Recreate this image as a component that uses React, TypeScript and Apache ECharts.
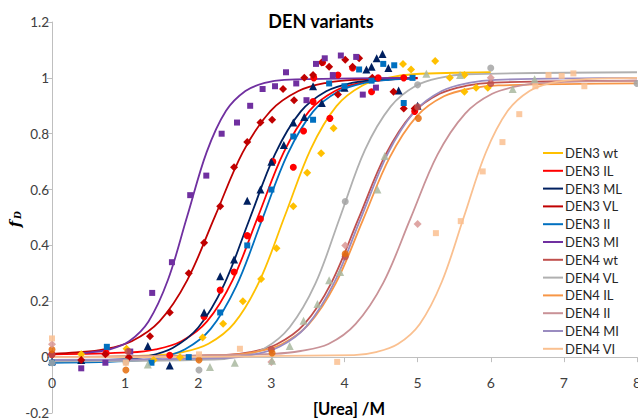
import React, { useEffect, useRef } from "react";
import * as echarts from "echarts";

const seriesNames = [
  "DEN3 wt", "DEN3 IL", "DEN3 ML", "DEN3 VL", "DEN3 II", "DEN3 MI",
  "DEN4 wt", "DEN4 VL", "DEN4 IL", "DEN4 II", "DEN4 MI", "DEN4 VI",
];
const lineColors = [
  "#FFC000", "#FF0000", "#002060", "#C00000", "#0070C0", "#7030A0",
  "#C0504D", "#B0B0B0", "#F79646", "#C99297", "#9A8CC0", "#FAC090",
];
const markerColors = [
  "#FFC000", "#FF0000", "#002060", "#C00000", "#0070C0", "#7030A0",
  "#C0504D", "#A5A5A5", "#E46C0A", "#D99694", "#A9B8A0", "#FAC090",
];
const markerSymbols = [
  "diamond", "circle", "triangle", "diamond", "rect", "rect",
  "circle", "circle", "circle", "diamond", "triangle", "rect",
];

// fitted curves: [urea, fD]
const den3WtCurve = [[0.4, 0.0], [1.44, 0.007], [1.79, 0.018], [2.14, 0.048], [2.49, 0.121], [2.84, 0.274], [3.19, 0.51], [3.54, 0.746], [3.89, 0.899], [4.24, 0.972], [4.59, 1.0], [4.94, 1.013], [6.0, 1.02]];
const den3IlCurve = [[0, 0.01], [1.07, 0.017], [1.42, 0.028], [1.77, 0.057], [2.12, 0.128], [2.47, 0.276], [2.82, 0.505], [3.17, 0.734], [3.52, 0.882], [3.87, 0.953], [4.22, 0.982], [4.57, 0.993], [5.0, 0.998]];
const den3MlCurve = [[0, -0.015], [0.95, -0.008], [1.3, 0.003], [1.65, 0.033], [2.0, 0.106], [2.35, 0.258], [2.7, 0.493], [3.05, 0.727], [3.4, 0.879], [3.75, 0.952], [4.1, 0.982], [4.45, 0.993], [4.95, 0.999]];
const den3VlCurve = [[0, 0.012], [0.33, 0.017], [0.71, 0.028], [1.09, 0.057], [1.47, 0.128], [1.85, 0.276], [2.23, 0.505], [2.61, 0.734], [2.99, 0.882], [3.37, 0.953], [3.75, 0.982], [4.13, 0.993], [5.0, 1.0]];
const den3IiCurve = [[0, -0.02], [1.12, -0.013], [1.47, -0.002], [1.82, 0.028], [2.17, 0.101], [2.52, 0.254], [2.87, 0.49], [3.22, 0.726], [3.57, 0.879], [3.92, 0.952], [4.27, 0.982], [4.62, 0.993], [4.95, 0.997]];
const den3MiCurve = [[0.4, 0.014], [0.525, 0.017], [0.79, 0.028], [1.055, 0.057], [1.32, 0.128], [1.585, 0.276], [1.85, 0.505], [2.115, 0.734], [2.38, 0.882], [2.645, 0.953], [2.91, 0.982], [3.175, 0.993], [4.9, 1.0]];
const den4WtCurve = [[0, 0.0], [2.34, 0.007], [2.71, 0.018], [3.08, 0.047], [3.45, 0.118], [3.82, 0.266], [4.19, 0.495], [4.56, 0.724], [4.93, 0.872], [5.3, 0.943], [5.67, 0.972], [6.04, 0.983], [8.0, 0.99]];
const den4VlCurve = [[0, -0.015], [2.22, -0.009], [2.56, 0.003], [2.91, 0.032], [3.25, 0.107], [3.6, 0.262], [3.94, 0.502], [4.28, 0.742], [4.63, 0.897], [4.97, 0.971], [5.32, 1.001], [5.66, 1.013], [8.0, 1.02]];
const den4IlCurve = [[0, 0.0], [2.4, 0.007], [2.77, 0.018], [3.14, 0.046], [3.51, 0.117], [3.88, 0.264], [4.25, 0.49], [4.62, 0.716], [4.99, 0.863], [5.36, 0.934], [5.73, 0.962], [6.1, 0.973], [8.0, 0.98]];
const den4IiCurve = [[0, 0.0], [2.0, 0.006], [3.03, 0.012], [3.4, 0.022], [3.78, 0.047], [4.15, 0.118], [4.53, 0.266], [4.9, 0.495], [5.27, 0.724], [5.65, 0.872], [6.02, 0.943], [6.4, 0.972], [6.77, 0.983], [8.0, 0.99]];
const den4MiCurve = [[0, -0.01], [2.37, -0.003], [2.74, 0.008], [3.11, 0.037], [3.48, 0.11], [3.85, 0.262], [4.22, 0.495], [4.59, 0.728], [4.96, 0.88], [5.33, 0.953], [5.7, 0.982], [6.07, 0.993], [8.0, 1.0]];
const den4ViCurve = [[0, 0.0], [4.13, 0.007], [4.43, 0.018], [4.73, 0.047], [5.03, 0.119], [5.33, 0.269], [5.63, 0.5], [5.93, 0.731], [6.23, 0.881], [6.53, 0.953], [6.83, 0.982], [7.13, 0.993], [8.0, 1.0]];

// measured points: [urea, fD]
const den3WtPoints = [[0.4, 0.01], [1.02, 0.03], [1.39, -0.01], [1.75, 0.0], [2.06, 0.07], [2.34, 0.12], [2.61, 0.2], [2.86, 0.28], [3.07, 0.39], [3.3, 0.54], [3.49, 0.66], [3.68, 0.73], [3.85, 0.82], [4.8, 1.05], [4.91, 1.03], [5.24, 1.06], [5.44, 1.0], [5.64, 1.01], [5.64, 0.95], [5.8, 0.965], [5.96, 0.965]];
const den3IlPoints = [[0, 0.01], [0.74, 0.015], [1.61, 0.007], [2.08, 0.145], [2.3, 0.24], [2.49, 0.305], [2.67, 0.435], [2.85, 0.495], [3.02, 0.7], [3.3, 0.68], [3.44, 0.81], [3.57, 0.915], [3.58, 1.0], [3.7, 1.055], [3.8, 0.855], [3.91, 1.01], [4.11, 1.035], [4.37, 0.95], [4.46, 1.0], [4.81, 1.0], [4.96, 0.88]];
const den3MlPoints = [[0, -0.015], [0.4, -0.01], [1.31, 0.04], [1.61, -0.03], [2.08, 0.16], [2.3, 0.29], [2.49, 0.35], [2.67, 0.56], [2.85, 0.6], [3.0, 0.7], [3.17, 0.76], [3.3, 0.84], [3.45, 0.86], [3.57, 0.97], [3.69, 0.91], [4.0, 0.965], [4.3, 1.03], [4.37, 1.04], [4.44, 1.07], [4.52, 1.085], [4.6, 1.035], [4.74, 0.955], [5.0, 0.9]];
const den3VlPoints = [[0, 0.01], [0.4, -0.01], [0.73, 0.01], [1.05, 0.0], [1.34, 0.075], [1.61, 0.16], [1.87, 0.3], [2.08, 0.41], [2.3, 0.54], [2.49, 0.68], [2.67, 0.77], [2.85, 0.84], [3.01, 0.85], [3.16, 0.96], [3.31, 0.92], [3.45, 1.0], [3.57, 1.01], [3.69, 1.055], [3.79, 1.04], [3.91, 0.94], [4.01, 1.065], [4.11, 1.04], [4.2, 1.07], [4.38, 1.0], [4.67, 0.95], [4.81, 0.89], [4.96, 0.89]];
const den3IiPoints = [[0, -0.02], [0.75, 0.037], [1.36, -0.02], [1.87, 0.0], [2.3, 0.16], [2.67, 0.4], [3.0, 0.6], [3.3, 0.79], [3.57, 0.85], [3.79, 0.98], [4.0, 0.97], [4.2, 1.03], [4.37, 0.99], [4.53, 1.05], [4.68, 1.045], [4.81, 0.91], [4.93, 1.0]];
const den3MiPoints = [[0.4, -0.04], [0.73, -0.02], [1.07, 0.02], [1.37, 0.23], [1.64, 0.34], [1.89, 0.58], [2.11, 0.65], [2.32, 0.8], [2.53, 0.84], [2.71, 0.9], [2.88, 0.96], [3.05, 0.97], [3.2, 1.02], [3.34, 0.98], [3.48, 0.92], [3.61, 1.05], [3.73, 1.07], [3.84, 1.01], [3.95, 1.08], [4.16, 1.075], [4.25, 0.94], [4.43, 0.965]];
const den4WtPoints = [[0, 0.01], [1.04, 0.02], [3.0, 0.027], [4.01, 0.36], [5.0, 0.896], [6.0, 0.98]];
const den4VlPoints = [[0, -0.02], [1.01, -0.017], [2.01, -0.046], [4.01, 0.557], [5.0, 0.975], [6.0, 1.035], [8.0, 0.98]];
const den4IlPoints = [[0, 0.027], [1.01, -0.046], [2.01, -0.01], [3.01, 0.015], [4.01, 0.37], [5.01, 0.855]];
const den4IiPoints = [[0, 0.046], [3.0, -0.017], [4.01, 0.4], [5.0, 0.477], [6.0, 1.0]];
const den4MiPoints = [[1.31, -0.026], [2.16, -0.035], [2.5, -0.02], [3.01, -0.013], [3.25, 0.04], [3.44, 0.13], [3.63, 0.19], [3.79, 0.275], [3.94, 0.305], [4.45, 0.6], [4.55, 0.72], [5.12, 1.015], [5.58, 1.01], [6.3, 0.96], [6.6, 0.995]];
const den4ViPoints = [[0, 0.067], [1.01, -0.02], [2.01, 0.01], [2.57, 0.03], [3.9, -0.017], [5.25, 0.444], [5.59, 0.487], [5.89, 0.665], [6.16, 0.77], [6.39, 0.87], [6.61, 0.97], [6.79, 1.01], [6.97, 1.007], [7.13, 1.016], [7.28, 0.97]];

const curves = [den3WtCurve, den3IlCurve, den3MlCurve, den3VlCurve, den3IiCurve, den3MiCurve, den4WtCurve, den4VlCurve, den4IlCurve, den4IiCurve, den4MiCurve, den4ViCurve];
const points = [den3WtPoints, den3IlPoints, den3MlPoints, den3VlPoints, den3IiPoints, den3MiPoints, den4WtPoints, den4VlPoints, den4IlPoints, den4IiPoints, den4MiPoints, den4ViPoints];

const titleText = "DEN variants";
const xAxisTitle = "[Urea] /M";

export default function App() {
  const ref = useRef<HTMLDivElement>(null);
  useEffect(() => {
    if (!ref.current) return;
    const chart = echarts.init(ref.current, null, { renderer: "svg" });
    const font = "Lato, 'Liberation Sans', sans-serif";
    const series: any[] = [];
    points.forEach((pts, i) => {
      series.push({
        name: seriesNames[i] + " data",
        type: "scatter",
        data: pts,
        symbol: markerSymbols[i],
        symbolSize: markerSymbols[i] === "rect" ? 6 : markerSymbols[i] === "circle" ? 7 : 8,
        itemStyle: { color: markerColors[i], opacity: i >= 6 ? 0.85 : 1 },
        z: 3,
      });
    });
    curves.forEach((c, i) => {
      series.push({
        name: seriesNames[i],
        type: "line",
        data: c,
        smooth: 0.35,
        showSymbol: false,
        symbol: "none",
        color: lineColors[i],
        lineStyle: { color: lineColors[i], width: 1.8 },
        z: 2,
      });
    });
    const gridHeight = 419 - 22 - 6;
    const zeroOffset = -(gridHeight * 0.2) / 1.4;
    const option: any = {
      animation: false,
      backgroundColor: "#ffffff",
      grid: { left: 52, right: 1, top: 22, bottom: 6, containLabel: false, outerBoundsMode: "none" },
      xAxis: {
        type: "value",
        min: 0,
        max: 8,
        interval: 1,
        position: "bottom",
        offset: zeroOffset,
        axisLine: { show: true, onZero: false, lineStyle: { color: "#BFBFBF", width: 1 } },
        axisTick: { show: true, length: 5, lineStyle: { color: "#BFBFBF" } },
        axisLabel: { margin: 18, fontSize: 14, color: "#404040", fontFamily: font, hideOverlap: false },
        splitLine: { show: false },
      },
      yAxis: {
        type: "value",
        min: -0.2,
        max: 1.2,
        interval: 0.2,
        axisLine: { show: true, onZero: false, lineStyle: { color: "#BFBFBF", width: 1 } },
        axisTick: { show: true, length: 5, lineStyle: { color: "#BFBFBF" } },
        axisLabel: {
          margin: 3,
          fontSize: 13.5,
          color: "#404040",
          fontFamily: font,
          formatter: (v: number) => String(Math.round(v * 10) / 10),
        },
        splitLine: { show: false },
      },
      legend: {
        data: seriesNames,
        orient: "vertical",
        left: 543,
        top: 146,
        padding: 0,
        icon: "rect",
        itemWidth: 20,
        itemHeight: 2,
        itemGap: 3.8,
        textStyle: { fontSize: 13, lineHeight: 14, color: "#262626", fontFamily: font, padding: [0, 0, 0, -3] },
        selectedMode: false,
      },
      graphic: [
        {
          type: "text",
          x: 321,
          y: 21,
          style: { text: titleText, font: `bold 18px ${font}`, fill: "#000", align: "center", verticalAlign: "middle" },
        },
        {
          type: "text",
          x: 349,
          y: 409,
          style: { text: xAxisTitle, font: `bold 16.5px ${font}`, fill: "#000", align: "center", verticalAlign: "middle" },
        },
        {
          type: "group",
          x: 15,
          y: 224,
          rotation: Math.PI / 2,
          children: [
            {
              type: "text",
              x: 0,
              y: 0,
              style: { text: "f", font: "italic bold 15px 'DejaVu Serif', serif", fill: "#000", align: "center", verticalAlign: "middle" },
            },
            {
              type: "text",
              x: 5,
              y: 3,
              style: { text: "D", font: "italic bold 9px 'DejaVu Serif', serif", fill: "#000", align: "left", verticalAlign: "middle" },
            },
          ],
        },
      ],
      series,
    };
    chart.setOption(option);
    return () => chart.dispose();
  }, []);
  return <div ref={ref} style={{ position: "absolute", left: 0, top: 0, width: 638, height: 419 }} />;
}
